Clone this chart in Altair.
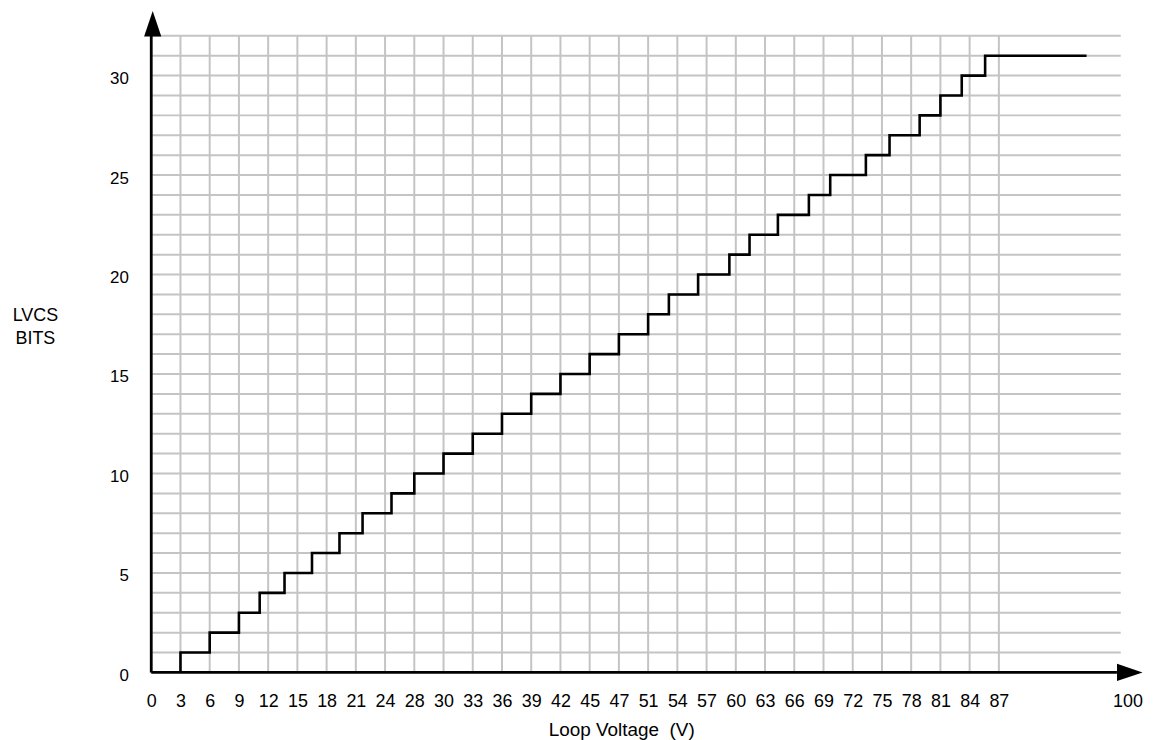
import altair as alt
import pandas as pd

# ---- data ----
x_labels = ["0", "3", "6", "9", "12", "15", "18", "21", "24", "28", "30", "33", "36", "39",
            "42", "45", "47", "51", "54", "57", "60", "63", "66", "69", "72", "75", "78",
            "81", "84", "87"]
end_label = "100"
end_label_pos = 33.4          # grid position of the "100" label
y_ticks = [0, 5, 10, 15, 20, 25, 30]

# grid position (one unit per vertical grid line) at which each LVCS level starts
step_levels = list(range(1, 32))
step_riser_pos = [1.0, 2.0, 3.0, 3.71, 4.56, 5.5, 6.44, 7.23, 8.22, 9.0, 10.0, 11.0,
                  12.0, 13.0, 14.0, 15.0, 16.0, 17.0, 17.71, 18.71, 19.78, 20.47, 21.44,
                  22.5, 23.23, 24.45, 25.26, 26.29, 27.0, 27.73, 28.53]
step_end_pos = 32.0

grid_top = 32
grid_right = 33.17
x_axis_end = 33.04
y_axis_end = 32.6
x_arrow_pos = 33.48
y_arrow_pos = 32.61

FONT = "Liberation Sans"

# ---- tables ----
vgrid = pd.DataFrame({"x": list(range(len(x_labels))), "y": 0, "y2": grid_top})
hgrid = pd.DataFrame({"y": list(range(1, grid_top + 1)), "x": 0, "x2": grid_right})
step = pd.DataFrame({
    "x": step_riser_pos + [step_end_pos],
    "y": [lv - 1 for lv in step_levels] + [step_levels[-1]],
})
xaxis_line = pd.DataFrame({"x": [0], "x2": [x_axis_end], "y": [0]})
yaxis_line = pd.DataFrame({"x": [0], "y": [0], "y2": [y_axis_end]})
xarrow = pd.DataFrame({"x": [x_arrow_pos], "y": [0]})
yarrow = pd.DataFrame({"x": [0.05], "y": [y_arrow_pos]})

label_positions = list(range(len(x_labels))) + [end_label_pos]
label_texts = x_labels + [end_label]
label_expr = "[{}][indexof([{}], datum.value)]".format(
    ",".join("'" + t + "'" for t in label_texts),
    ",".join(str(p) for p in label_positions),
)

xscale = alt.Scale(domain=[0, 34], nice=False, zero=False)
yscale = alt.Scale(domain=[0, 33.3], nice=False, zero=False)

xaxis = alt.Axis(
    values=label_positions, labelExpr=label_expr, domain=False, ticks=False, grid=False,
    labelFont=FONT, labelFontSize=18, labelColor="black", labelPadding=20,
    labelFlush=False, labelOverlap=False, labelBaseline="top",
    title="Loop Voltage\u00a0 (V)", titleFont=FONT, titleFontSize=19,
    titleFontWeight="normal", titleColor="black", titleX=472.5, titleY=63,
    titleAlign="center", titleBaseline="alphabetic", titleAnchor="start",
)
yaxis = alt.Axis(
    values=y_ticks, domain=False, ticks=False, grid=False,
    labelFont=FONT, labelFontSize=17, labelColor="black", labelPadding=23,
    labelOffset=3, labelBaseline="middle",
    title=["LVCS", "BITS"], titleFont=FONT, titleFontSize=18, titleFontWeight="normal",
    titleColor="black", titleAngle=0, titleX=-117, titleY=298, titleAlign="center",
    titleBaseline="top", titleLineHeight=23, titleAnchor="start",
)


def X(field="x"):
    return alt.X(f"{field}:Q", scale=xscale, axis=xaxis)


def Y(field="y"):
    return alt.Y(f"{field}:Q", scale=yscale, axis=yaxis)


GRID = "#c4c4c4"

vg = alt.Chart(vgrid).mark_rule(color=GRID, strokeWidth=2).encode(
    x=X(), y=Y(), y2="y2:Q")
hg = alt.Chart(hgrid).mark_rule(color=GRID, strokeWidth=2).encode(
    y=Y(), x=X(), x2="x2:Q")
line = alt.Chart(step).mark_line(color="black", strokeWidth=2.6,
                                 interpolate="step-before").encode(x=X(), y=Y())
xl = alt.Chart(xaxis_line).mark_rule(color="black", strokeWidth=2.8).encode(
    x=X(), x2="x2:Q", y=Y())
yl = alt.Chart(yaxis_line).mark_rule(color="black", strokeWidth=2.8).encode(
    x=X(), y=Y(), y2="y2:Q")
xa = alt.Chart(xarrow).mark_point(
    shape="M1,0L-1,-0.673L-1,0.673Z", filled=True, fill="black", color="black",
    opacity=1, size=660, strokeWidth=0).encode(x=X(), y=Y())
ya = alt.Chart(yarrow).mark_point(
    shape="M0,-1L0.673,1L-0.673,1Z", filled=True, fill="black", color="black",
    opacity=1, size=660, strokeWidth=0).encode(x=X(), y=Y())

chart = alt.layer(vg, hg, line, xl, yl, xa, ya).properties(
    width=999, height=666,
    padding={"left": 144, "top": 0, "right": 0, "bottom": 70},
    autosize=alt.AutoSizeParams(type="none"),
    background="white",
).configure_view(stroke=None)

chart.save("out.html", embed_options={"renderer": "svg", "actions": False})
